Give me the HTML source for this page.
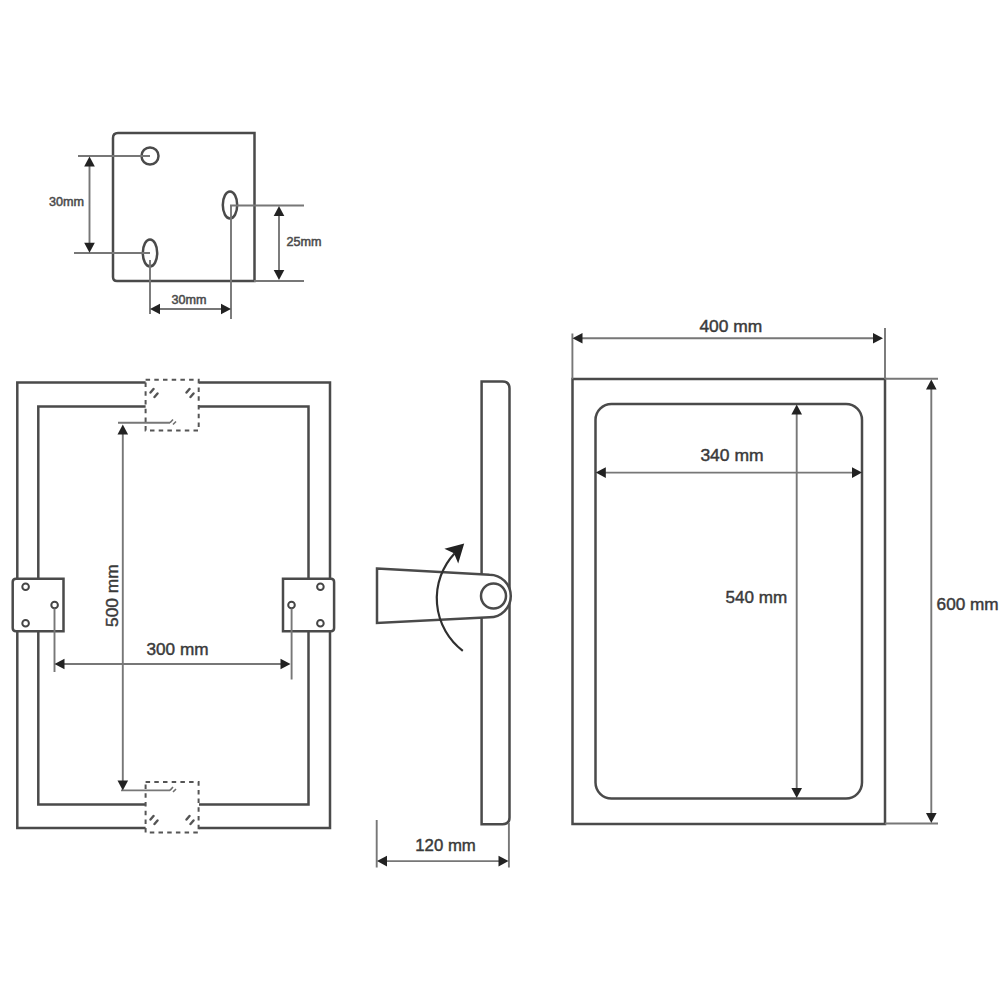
<!DOCTYPE html>
<html><head><meta charset="utf-8">
<style>
html,body{margin:0;padding:0;background:#fff;width:1000px;height:1000px;overflow:hidden}
svg{display:block}
text{font-family:"Liberation Sans",sans-serif;fill:#3a3a3a;stroke:#3a3a3a;stroke-width:0.45}
text.s{fill:#4a4a4a;stroke:#4a4a4a;stroke-width:0.5}
.m{fill:none;stroke:#4a4a4a;stroke-width:2.5}
.d{fill:none;stroke:#777;stroke-width:1.9}
.a{fill:#222;stroke:none}
.h{fill:none;stroke:#555;stroke-width:2;stroke-dasharray:4.5 4.2}
</style></head>
<body>
<svg width="1000" height="1000" viewBox="0 0 1000 1000">
<defs>
  <path id="au" d="M0,0 L-5.3,10 L5.3,10 Z"/>
</defs>

<!-- ===== small plate ===== -->
<path class="m" d="M118,133 H254.5 V281 H117 Q113,281 113,277 V138 Q113,133 118,133 Z"/>
<circle class="m" cx="150" cy="156" r="8.5" stroke-width="2"/>
<ellipse class="m" cx="230" cy="205" rx="7.2" ry="13.5" stroke-width="2"/>
<ellipse class="m" cx="150" cy="253" rx="7.2" ry="13.5" stroke-width="2"/>
<!-- dims -->
<path class="d" d="M78,156 H150 M74,253 H150 M89.5,160 V249 M230,205.5 H304 M254,281 H304 M279,210 V277 M150,260 V314 M231,205 V319 M154,309 H227"/>
<use href="#au" class="a" transform="translate(89.5,156.5)"/>
<use href="#au" class="a" transform="translate(89.5,252.8) rotate(180)"/>
<use href="#au" class="a" transform="translate(279,206) "/>
<use href="#au" class="a" transform="translate(279,280) rotate(180)"/>
<use href="#au" class="a" transform="translate(150,309) rotate(-90)"/>
<use href="#au" class="a" transform="translate(231,309) rotate(90)"/>
<text x="49" y="206" font-size="12.3" textLength="35" lengthAdjust="spacingAndGlyphs" class="s">30mm</text>
<text x="286.5" y="246" font-size="12.3" textLength="35" lengthAdjust="spacingAndGlyphs" class="s">25mm</text>
<text x="171.5" y="304" font-size="12.3" textLength="35" lengthAdjust="spacingAndGlyphs" class="s">30mm</text>

<!-- ===== left front view ===== -->
<path class="m" d="M145.6,382.5 H17.3 V828 H145.6 M199,382.5 H330 V828 H199 M145.6,406.5 H38.3 V804.5 H145.6 M199,406.5 H308.5 V804.5 H199"/>
<rect class="h" x="145.6" y="379.8" width="53.1" height="50.6"/>
<rect class="h" x="145.6" y="782" width="53" height="50.6"/>
<!-- hidden holes -->
<path fill="none" stroke="#555" stroke-width="2.4" stroke-linecap="round" d="M153.5,389 L150.5,392.5 M157.5,393.5 L154.5,397 M189.5,389 L186.5,392.5 M193.5,393.5 L190.5,397
 M153.5,816 L150.5,819.5 M157.5,820.5 L154.5,824 M189.5,816 L186.5,819.5 M193.5,820.5 L190.5,824"/>
<!-- brackets -->
<path class="m" fill="#fff" style="fill:#fff" d="M16,578.7 H63.5 V631.2 H16 Q12.7,631.2 12.7,628 V582 Q12.7,578.7 16,578.7 Z"/>
<path class="m" style="fill:#fff" d="M283,578.7 H331 Q334.1,578.7 334.1,582 V628 Q334.1,631.2 331,631.2 H283 Z"/>
<g fill="none" stroke="#454545" stroke-width="2">
<circle cx="25.6" cy="586.8" r="3.3"/><circle cx="25.6" cy="623.3" r="3.3"/><circle cx="54.6" cy="605" r="3.3"/>
<circle cx="320.4" cy="586.8" r="3.3"/><circle cx="320.4" cy="623.3" r="3.3"/><circle cx="291.5" cy="605" r="3.3"/>
</g>
<!-- dims -->
<path class="d" d="M54.5,608.5 V672 M291.6,608.5 V679.5 M58,664 H286 M122.8,429 V786 M118,422.8 H170 M121,790.4 H170"/>
<path fill="none" stroke="#6f6f6f" stroke-width="1.6" d="M170,422.8 L173,419.5 M173,424.5 L176,421.5 M170,790.4 L173,787 M173,792 L176,789"/>
<use href="#au" class="a" transform="translate(54.5,664) rotate(-90)"/>
<use href="#au" class="a" transform="translate(290.5,664) rotate(90)"/>
<use href="#au" class="a" transform="translate(122.8,424.5)"/>
<use href="#au" class="a" transform="translate(122.8,790.4) rotate(180)"/>
<text x="146.5" y="655" font-size="16.8" textLength="62" lengthAdjust="spacingAndGlyphs">300 mm</text>
<text font-size="16.8" textLength="62.6" lengthAdjust="spacingAndGlyphs" transform="translate(118.3,627) rotate(-90)">500 mm</text>

<!-- ===== side view ===== -->
<path class="m" d="M481.6,381.5 H502.5 Q509.5,381.5 509.5,388.5 V817.5 Q509.5,824.2 502.5,824.2 H481.6 Z"/>
<path class="m" style="fill:#fff" d="M377,568.5 L489.5,574.7 A21.3,21.3 0 0 1 489.5,617.3 L377,623 Z"/>
<circle class="m" cx="493.5" cy="596" r="12.5"/>
<path fill="none" stroke="#2f2f2f" stroke-width="2.2" d="M462.8,650.8 A65.8,65.8 0 0 1 454.5,553.5"/>
<path fill="#222" d="M464.2,543.6 L444.4,548.8 L454,553.2 L458.2,563.6 Z"/>
<path class="d" d="M376.7,820 V867.5 M508.9,823 V867.5 M381,861.1 H504.5"/>
<use href="#au" class="a" transform="translate(377,861.1) rotate(-90)"/>
<use href="#au" class="a" transform="translate(508.5,861.1) rotate(90)"/>
<text x="415.3" y="850.5" font-size="16.8" textLength="60.5" lengthAdjust="spacingAndGlyphs">120 mm</text>

<!-- ===== right front view ===== -->
<rect class="m" x="572.5" y="379" width="312.5" height="445"/>
<rect class="m" x="595.5" y="404" width="266.5" height="394.5" rx="16" ry="16"/>
<path class="d" d="M572.4,333.5 V379 M885,328 V379 M576,338.2 H879 M885,378.8 H938 M885,823.5 H938 M931.3,383 V820 M599,472.6 H858 M796.7,408 V794"/>
<use href="#au" class="a" transform="translate(572.5,338.2) rotate(-90)"/>
<use href="#au" class="a" transform="translate(883,338.2) rotate(90)"/>
<use href="#au" class="a" transform="translate(595.8,472.6) rotate(-90)"/>
<use href="#au" class="a" transform="translate(862,472.6) rotate(90)"/>
<use href="#au" class="a" transform="translate(796.7,404.5)"/>
<use href="#au" class="a" transform="translate(796.7,797.9) rotate(180)"/>
<use href="#au" class="a" transform="translate(931.3,379.5)"/>
<use href="#au" class="a" transform="translate(931.3,823) rotate(180)"/>
<text x="699.4" y="332" font-size="16.8" textLength="62.8" lengthAdjust="spacingAndGlyphs">400 mm</text>
<text x="700.4" y="461.2" font-size="16.8" textLength="63.2" lengthAdjust="spacingAndGlyphs">340 mm</text>
<text x="725.6" y="602.5" font-size="16.8" textLength="61.7" lengthAdjust="spacingAndGlyphs">540 mm</text>
<text x="936.6" y="609.5" font-size="16.8" textLength="62" lengthAdjust="spacingAndGlyphs">600 mm</text>
</svg>
</body></html>
